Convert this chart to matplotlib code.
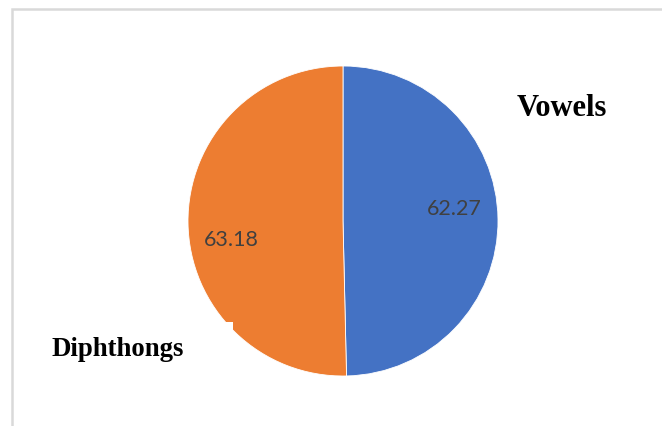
import matplotlib
matplotlib.use("Agg")
import matplotlib.pyplot as plt
from matplotlib.patches import Rectangle

categories = ["Vowels", "Diphthongs"]
values = [62.27, 63.18]
colors = ["#4472C4", "#ED7D31"]

W, H = 662, 426
fig = plt.figure(figsize=(W / 100, H / 100), dpi=100)
fig.patch.set_facecolor("white")

# Pie area: centre (343, 221) px, radius 155 px
cx, cy, r = 343, 221, 155
ax = fig.add_axes([(cx - r) / W, (H - cy - r) / H, 2 * r / W, 2 * r / H])

wedges, texts = ax.pie(
    values,
    colors=colors,
    startangle=90,
    counterclock=False,
    radius=1,
    wedgeprops=dict(edgecolor="white", linewidth=0.6),
)
ax.set_xlim(-1, 1)
ax.set_ylim(-1, 1)
ax.set_aspect("equal")
ax.axis("off")

# value labels
value_pos = [(0.716, 0.077), (-0.723, -0.123)]
for v, (x, y) in zip(values, value_pos):
    ax.text(x, y, f"{v:.2f}", ha="center", va="center",
            fontsize=15.5, color="#404040", family=["Lato", "DejaVu Sans"])

def px(x, y):
    return x / W, 1 - y / H

# frame around the chart area
fig.patches.append(Rectangle(px(12, 440), (700 - 12) / W, (440 - 9) / H,
                             transform=fig.transFigure, fill=False,
                             edgecolor="#D9D9D9", linewidth=1.8, zorder=0))

# background box of the lower category label
fig.patches.append(Rectangle(px(40, 385), (233 - 40) / W, (385 - 322) / H,
                             transform=fig.transFigure, facecolor="white",
                             edgecolor="none", zorder=5))

label_font = dict(family=["Liberation Serif", "DejaVu Serif"],
                  fontweight="bold", color="black")
fig.text(*px(562, 108), categories[0], ha="center", va="center",
         fontsize=22, zorder=10, **label_font)
fig.text(*px(118, 350), categories[1], ha="center", va="center",
         fontsize=19.3, zorder=10, **label_font)

fig.savefig("out.png", dpi=100, facecolor="white")
